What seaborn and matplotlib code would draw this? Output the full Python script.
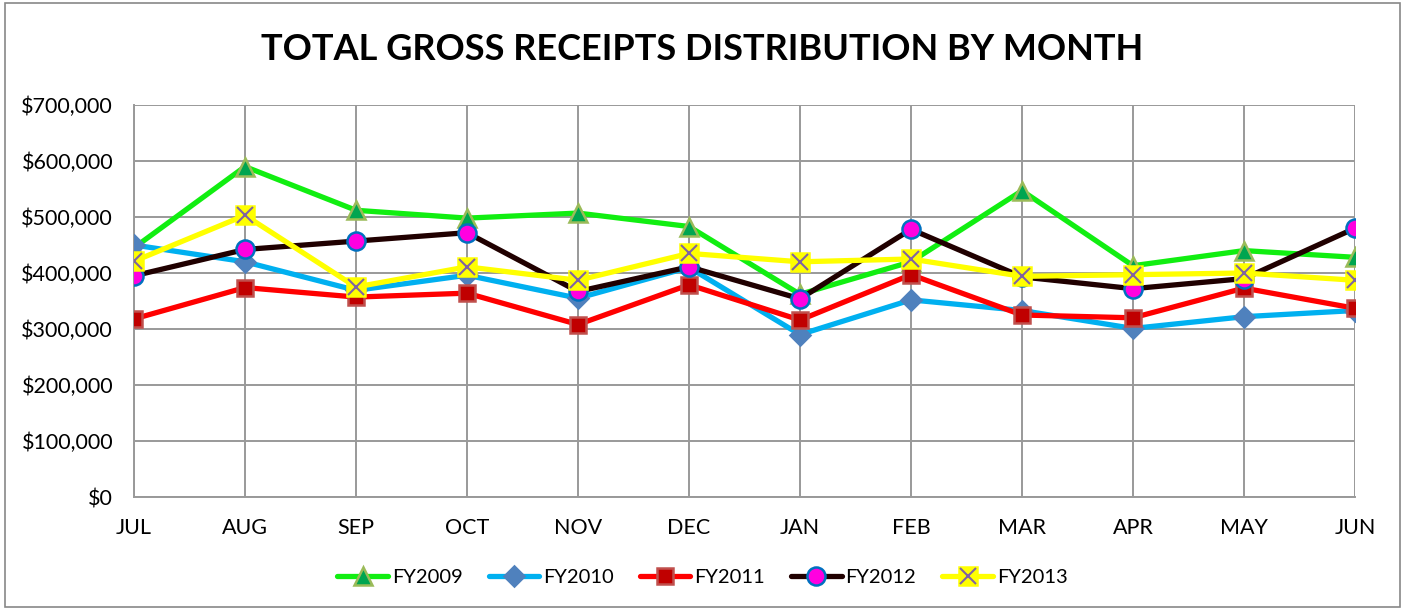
import numpy as np
import pandas as pd
import matplotlib
matplotlib.use("Agg")
import matplotlib.pyplot as plt
from matplotlib.patches import Rectangle
from matplotlib.lines import Line2D
from matplotlib.ticker import FuncFormatter
import seaborn as sns

# data
months = ["JUL", "AUG", "SEP", "OCT", "NOV", "DEC", "JAN", "FEB", "MAR", "APR", "MAY", "JUN"]
fy2009 = [445000, 590000, 512000, 498000, 507000, 483000, 362000, 420000, 547000, 413000, 440000, 428000]
fy2010 = [450000, 420000, 369000, 396000, 355000, 410000, 290000, 352000, 333000, 301000, 322000, 333000]
fy2011 = [318000, 374000, 357000, 364000, 308000, 379000, 316000, 397000, 325000, 320000, 373000, 337000]
fy2012 = [395000, 442000, 457000, 472000, 367000, 411000, 354000, 478000, 393000, 372000, 390000, 480000]
fy2013 = [421000, 503000, 375000, 411000, 387000, 435000, 420000, 425000, 394000, 397000, 400000, 387000]
series_names = ["FY2009", "FY2010", "FY2011", "FY2012", "FY2013"]

df = pd.DataFrame({"Month": months, "FY2009": fy2009, "FY2010": fy2010,
                   "FY2011": fy2011, "FY2012": fy2012, "FY2013": fy2013})
df["pos"] = np.arange(len(months))

sns.set_style("white")
plt.rcParams["font.family"] = ["Lato", "DejaVu Sans"]
plt.rcParams["text.color"] = "black"
plt.rcParams["xtick.color"] = "black"
plt.rcParams["ytick.color"] = "black"

# line colour, marker, marker fill, marker edge, marker size
styles = {
    "FY2009": ("#11ee11", "^", "#00a550", "#9bbb59", 13),
    "FY2010": ("#00b0f0", "D", "#4f81bd", "#4f81bd", 10),
    "FY2011": ("#ff0000", "s", "#c00000", "#c0504d", 12),
    "FY2012": ("#200000", "o", "#ff00e0", "#0070c0", 13),
    "FY2013": ("#ffff00", "s", "#ffff00", "#ffff00", 13),
}

fig = plt.figure(figsize=(14.05, 6.10), dpi=100)
ax = fig.add_axes([134 / 1405, 1 - 497 / 610, (1355 - 134) / 1405, (497 - 105) / 610])

for name in series_names:
    lc, mk, mf, me, ms = styles[name]
    sns.lineplot(data=df, x="pos", y=name, ax=ax, color=lc, linewidth=3.8,
                 marker=mk, markersize=ms, markerfacecolor=mf, markeredgecolor=me,
                 markeredgewidth=1.8, label=name, zorder=3)
    if name == "FY2013":
        ax.plot(df["pos"], df[name], linestyle="none", marker="x", markersize=11,
                markeredgecolor="#8064a2", markeredgewidth=1.5, zorder=4)

# legend, FY2013 handle gets the cross on top
handles, labels = ax.get_legend_handles_labels()
handles[-1] = (handles[-1], Line2D([], [], linestyle="none", marker="x", markersize=11,
                                  markeredgecolor="#8064a2", markeredgewidth=1.5))
if ax.get_legend():
    ax.get_legend().remove()
fig.legend(handles, labels, loc="center", bbox_to_anchor=(0.5, 1 - 577 / 610), ncol=5,
           frameon=False, fontsize=14.5, handlelength=2.5, columnspacing=1.3, handletextpad=0.2)

ax.set_xlim(0, 11)
ax.set_ylim(0, 700000)
ax.set_xticks(df["pos"])
ax.set_xticklabels(months)
ax.set_yticks(np.arange(0, 700001, 100000))
ax.yaxis.set_major_formatter(FuncFormatter(lambda v, p: f"${v:,.0f}"))
ax.set_xlabel("")
ax.set_ylabel("")
ax.grid(True, color="#999999", linewidth=1.4)
ax.set_axisbelow(True)
for s in ["top", "right"]:
    ax.spines[s].set_visible(False)
for s in ["left", "bottom"]:
    ax.spines[s].set_color("#999999")
    ax.spines[s].set_linewidth(1.4)
ax.tick_params(axis="both", which="major", labelsize=15.5, color="#999999",
               width=1.2, direction="out")
ax.tick_params(axis="x", length=3, pad=12)
ax.tick_params(axis="y", length=7, pad=8)

fig.text(0.5, 1 - 50 / 610, "TOTAL GROSS RECEIPTS DISTRIBUTION BY MONTH", ha="center",
         va="center", fontsize=26, fontweight="bold", color="black")

fig.patches.append(Rectangle((5 / 1405, 3 / 610), 1 - 10 / 1405, 1 - 6 / 610, transform=fig.transFigure,
                             fill=False, edgecolor="#888888", linewidth=1.2))

fig.savefig("out.png", dpi=100)
